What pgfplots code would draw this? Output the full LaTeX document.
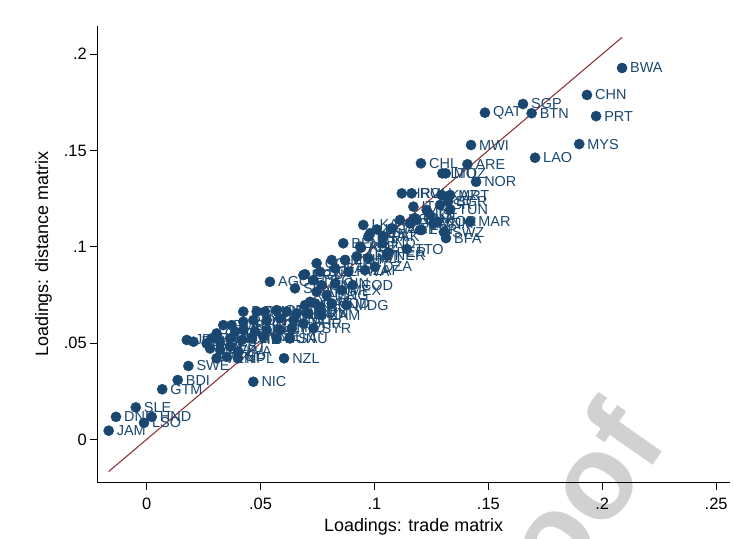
\documentclass[border=0pt]{standalone}
\usepackage{pgfplots}
\pgfplotsset{compat=1.18}
\usepackage{pgfplotstable}
\usepackage{fontspec}
\setmainfont{Liberation Sans}
\definecolor{stnavy}{RGB}{26,71,111}
\definecolor{stmaroon}{RGB}{144,53,59}

% factor loadings, one row per country
\pgfplotstableread{
x y lab
0.2087 0.1928 BWA
0.1933 0.1788 CHN
0.1973 0.1678 PRT
0.1899 0.1533 MYS
0.1705 0.1462 LAO
0.1652 0.1741 SGP
0.1690 0.1693 BTN
0.1485 0.1696 QAT
0.1424 0.1528 MWI
0.1204 0.1433 CHL
0.1408 0.1428 ARE
0.1298 0.1381 LTU
0.1313 0.1381 MOZ
0.1446 0.1337 NOR
0.1120 0.1277 HRV
0.1163 0.1277 ROU
0.1295 0.1268 KAZ
0.1332 0.1268 MRT
0.1323 0.1234 BGR
0.1288 0.1217 ISR
0.1332 0.1194 TUN
0.1171 0.1208 ITA
0.1229 0.1191 IRL
0.1244 0.1165 ISL
0.1185 0.1139 IRN
0.1156 0.1121 GRC
0.1207 0.1087 FIN
0.1258 0.1121 VNM
0.1276 0.1130 KOR
0.1420 0.1130 MAR
0.1305 0.1076 SWZ
0.1314 0.1045 BFA
0.1039 0.1055 PAK
0.0951 0.1113 LKA
0.0981 0.1070 KEN
0.1010 0.1090 UGA
0.1076 0.1096 TZA
0.1112 0.1139 EGY
0.1178 0.1148 GHA
0.1200 0.1087 ESP
0.0863 0.1018 BEN
0.1036 0.1018 IND
0.1142 0.0988 TTO
0.1061 0.0971 PER
0.0973 0.1052 BRA
0.0941 0.0995 KGZ
0.0922 0.0950 ARM
0.0937 0.1000 AZE
0.1054 0.0953 NER
0.0973 0.0940 MLI
0.1002 0.0896 DZA
0.0958 0.0879 ZAF
0.0871 0.0931 ETH
0.0812 0.0931 CMR
0.0746 0.0914 COL
0.0695 0.0857 ECU
0.0761 0.0870 BOL
0.0827 0.0888 GAB
0.0885 0.0870 RWA
0.0541 0.0818 AGO
0.0651 0.0784 SEN
0.0732 0.0827 TGO
0.0768 0.0801 CIV
0.0827 0.0810 GIN
0.0905 0.0801 COD
0.0790 0.0749 MNG
0.0746 0.0766 ARG
0.0856 0.0775 MEX
0.0878 0.0697 MDG
0.0812 0.0706 TCD
0.0739 0.0706 CAF
0.0695 0.0697 HTI
0.0768 0.0645 ZAM
0.0710 0.0654 URY
0.0688 0.0853 PRY
0.0717 0.0714 YEM
0.0761 0.0688 SDN
0.0424 0.0663 DOM
0.0483 0.0663 SLV
0.0519 0.0663 PAN
0.0571 0.0671 CRI
0.0615 0.0663 JOR
0.0659 0.0654 LBN
0.0702 0.0654 OMN
0.0336 0.0593 GMB
0.0373 0.0593 FJI
0.0424 0.0611 PHL
0.0468 0.0619 IDN
0.0527 0.0619 THA
0.0585 0.0628 TUR
0.0644 0.0619 KWT
0.0688 0.0602 BHR
0.0732 0.0576 SYR
0.0637 0.0576 IRQ
0.0585 0.0568 CYP
0.0527 0.0568 MLT
0.0476 0.0559 AUS
0.0424 0.0568 CAN
0.0388 0.0559 USA
0.0307 0.0550 GBR
0.0285 0.0524 FRA
0.0176 0.0516 JPN
0.0205 0.0507 DEU
0.0263 0.0498 NLD
0.0322 0.0507 BEL
0.0366 0.0524 AUT
0.0417 0.0516 CHE
0.0461 0.0524 SVN
0.0512 0.0533 CZE
0.0571 0.0524 HUN
0.0629 0.0524 SAU
0.0278 0.0472 POL
0.0322 0.0464 SVK
0.0366 0.0481 EST
0.0402 0.0455 LVA
0.0307 0.0421 VEN
0.0351 0.0429 BGD
0.0400 0.0421 NPL
0.0603 0.0421 NZL
0.0183 0.0381 SWE
0.0468 0.0299 NIC
0.0136 0.0308 BDI
0.0068 0.0260 GTM
-0.0048 0.0166 SLE
-0.0135 0.0117 DNK
-0.0012 0.0086 LSO
0.0022 0.0117 HND
-0.0167 0.0045 JAM
}\loadings

\begin{document}
\begin{tikzpicture}
\useasboundingbox (0,0) rectangle (734bp,539bp);
% watermark
\node[text=black!18, rotate=55, font=\bfseries\fontsize{120}{120}\selectfont] at (545bp,-6bp) {Proof};
\begin{axis}[
  at={(97.3bp,56.3bp)}, anchor=south west,
  scale only axis, width=632.7bp, height=456.7bp,
  xmin=-0.0217, xmax=0.2561, ymin=-0.0225, ymax=0.2146,
  axis x line*=bottom, axis y line*=left,
  axis line style={-, line width=1.3bp},
  tick align=outside, major tick length=7bp,
  tick style={line width=1bp, black},
  xtick={0,0.05,0.1,0.15,0.2,0.25},
  xticklabels={0,.05,.1,.15,.2,.25},
  ytick={0,0.05,0.1,0.15,0.2},
  yticklabels={0,.05,.1,.15,.2},
  tick label style={font=\fontsize{16.5}{18}\selectfont},
  xticklabel style={yshift=-5bp},
  xlabel={Loadings: trade matrix},
  ylabel={Loadings: distance matrix},
  label style={font=\fontsize{18}{20}\selectfont},
  x label style={at={(axis description cs:0.5,-0.097)}, anchor=center},
  y label style={at={(axis description cs:-0.085,0.5)}, anchor=center},
  clip=false,
]
\addplot[only marks, mark=*, mark size=5.1bp, stnavy,
  mark options={draw=stnavy, fill=stnavy},
  nodes near coords, point meta=explicit symbolic,
  every node near coord/.append style={anchor=west, inner sep=0pt,
    xshift=8bp, yshift=0pt, text=stnavy,
    font=\fontsize{14.5}{16}\selectfont}]
  table[x=x, y=y, meta=lab] {\loadings};
\addplot[stmaroon, line width=1.1bp] coordinates {(-0.0167,-0.0167) (0.2087,0.2087)};
\end{axis}
\end{tikzpicture}
\end{document}
